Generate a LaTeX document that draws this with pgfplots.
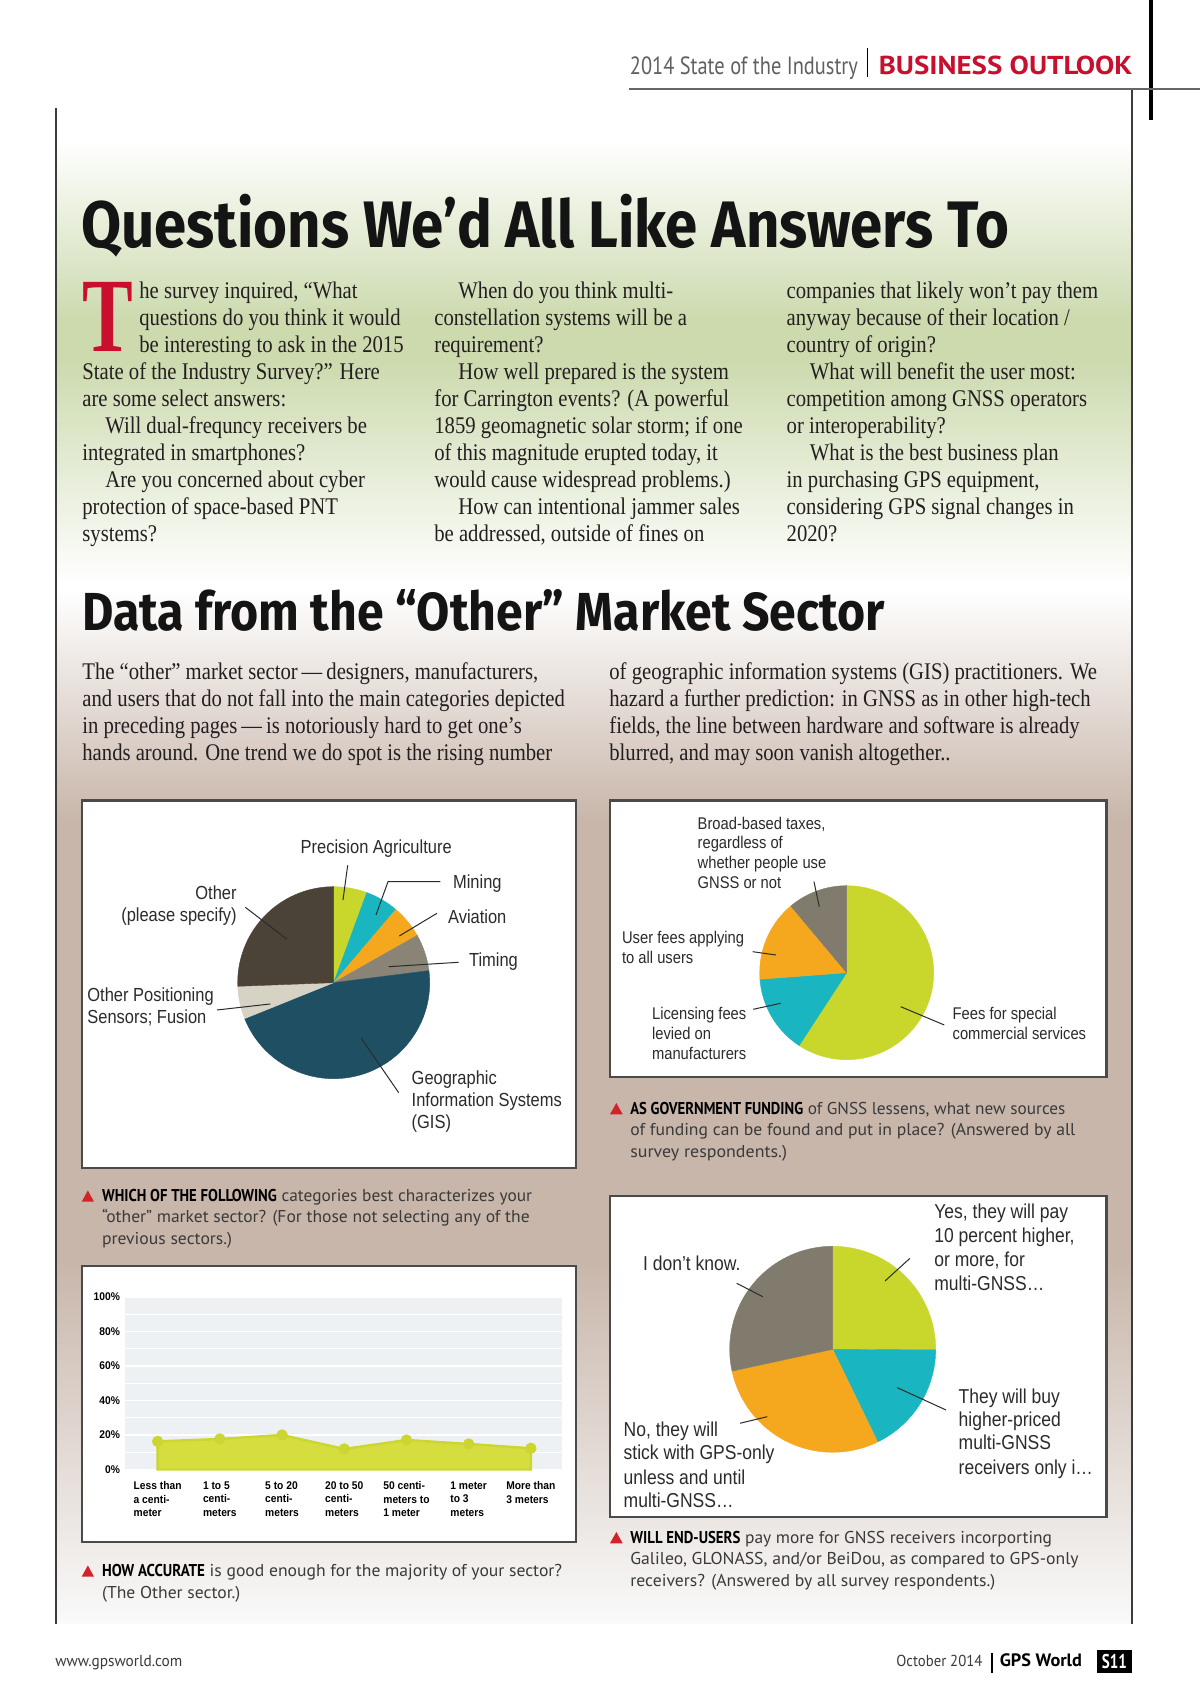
\documentclass[border=0pt]{standalone}
\usepackage{fontspec}
\usepackage{graphicx}
\usepackage{pgfplots}
\usepackage{pgfplotstable}
\pgfplotsset{compat=1.18}

\newfontfamily\bodyfamily[FakeStretch=0.865]{Liberation Serif}
\newfontfamily\capfamily{PT Sans}
\newfontfamily\capboldfamily[FakeStretch=0.85]{PT Sans}
\newfontfamily\headfamily{Fira Sans}
\newfontfamily\labfamily[FakeStretch=0.87]{Liberation Sans}
\newfontfamily\tickfamily[FakeStretch=0.92]{Liberation Sans}
\newfontfamily\dropfamily[FakeStretch=0.72]{Liberation Serif}

\newcommand\bodytext{\bodyfamily\fontsize{12}{13.5}\selectfont}
\newcommand\captext{\capfamily\fontsize{8.6}{10.5}\selectfont}
\newcommand\capbf{\capboldfamily\bfseries\color{black}}
\newcommand\labA{\labfamily\fontsize{9.5}{11}\selectfont}
\newcommand\labB{\labfamily\fontsize{8.5}{10}\selectfont}
\newcommand\labC{\labfamily\fontsize{10.1}{12}\selectfont}
\newcommand\tickfont{\tickfamily\bfseries\fontsize{5.6}{6.65}\selectfont}

\definecolor{bodyc}{HTML}{231F20}
\definecolor{capc}{HTML}{3A3A3A}
\definecolor{labc}{HTML}{2B2B2B}
\definecolor{redc}{HTML}{C8102E}
\definecolor{trired}{HTML}{D2232A}
\definecolor{grayhead}{HTML}{5F6063}
\definecolor{framec}{HTML}{3C3C3C}
\definecolor{boxc}{HTML}{4A4A4A}
\definecolor{bgGreen}{HTML}{CCDAAE}
\definecolor{bgTaupe}{HTML}{C8B6AA}
\definecolor{pYG}{HTML}{C9D72C}
\definecolor{pCyan}{HTML}{19B6C1}
\definecolor{pOrange}{HTML}{F5A81E}
\definecolor{pGray}{HTML}{898476}
\definecolor{pGray2}{HTML}{807B6C}
\definecolor{pTeal}{HTML}{1F4F63}
\definecolor{pBeige}{HTML}{D6D2C4}
\definecolor{pBrown}{HTML}{4B4338}
\definecolor{areaYG}{HTML}{D5DE3E}
\definecolor{areaLine}{HTML}{CBD630}
\definecolor{plotbg}{HTML}{EEF1F4}

\newsavebox\fitbox
\newcommand\fitw[2]{\sbox\fitbox{#2}\pgfmathsetmacro\fitsx{#1*0.501875/\the\wd\fitbox}\scalebox{\fitsx}[1]{\usebox\fitbox}}

\newcommand\drawpie[2]{%
  \pgfplotstablegetrowsof{#1}%
  \pgfmathtruncatemacro\pielast{\pgfplotsretval-1}%
  \def\piecum{0}%
  \pgfplotsforeachungrouped \pieidx in {0,...,\pielast}{%
    \pgfplotstablegetelem{\pieidx}{value}\of{#1}\let\pieval\pgfplotsretval
    \pgfplotstablegetelem{\pieidx}{color}\of{#1}\let\piecol\pgfplotsretval
    \pgfmathsetmacro\piesa{90-3.6*\piecum}%
    \pgfmathsetmacro\piecum{\piecum+\pieval}%
    \pgfmathsetmacro\pieea{90-3.6*\piecum}%
    \edef\pietmp{\noexpand\addplot[fill=\piecol, draw=\piecol, line width=0.2bp] coordinates {(0,0)} -- ++(\piesa:#2) arc[start angle=\piesa, end angle=\pieea, radius=#2] -- cycle;}%
    \pietmp
  }%
}

\pgfplotstableread{
slice value color
PrecisionAgriculture 5.6 pYG
Mining 5.6 pCyan
Aviation 5.6 pOrange
Timing 6.2 pGray
GIS 45.9 pTeal
OtherPositioningSensors 5.5 pBeige
OtherPleaseSpecify 25.6 pBrown
}\pieAdata

\pgfplotstableread{
slice value color
FeesSpecialCommercial 59.2 pYG
LicensingFees 14.6 pCyan
UserFees 15.1 pOrange
BroadBasedTaxes 11.1 pGray2
}\pieBdata

\pgfplotstableread{
slice value color
YesPayMore 25.1 pYG
BuyHigherPriced 17.7 pCyan
NoGPSOnly 28.8 pOrange
DontKnow 28.4 pGray2
}\pieCdata

\begin{document}
\begin{tikzpicture}
\path[use as bounding box] (0,0) rectangle (600bp,-854bp);
\begin{scope}[x=0.5bp,y=-0.5bp]
  % backgrounds
  \fill[white] (0,0) rectangle (1200,1708);
  \shade[top color=white, bottom color=bgGreen] (56,140) rectangle (1132,320);
  \fill[bgGreen] (56,319.5) rectangle (1132,360.5);
  \shade[top color=bgGreen, bottom color=white] (56,360) rectangle (1132,585);
  \shade[top color=white, bottom color=bgTaupe] (56,590) rectangle (1132,820);
  \fill[bgTaupe] (56,819.5) rectangle (1132,1260.5);
  \shade[top color=bgTaupe, bottom color=white!96!gray] (56,1260) rectangle (1132,1624);
  % frame lines
  \draw[framec, line width=0.75bp] (56,108) -- (56,1624);
  \draw[framec, line width=0.75bp] (1132,89) -- (1132,1624);
  \draw[black, line width=2.2bp] (1151,0) -- (1151,120);
  \draw[gray!80!black, line width=1.1bp] (629.5,89.3) -- (1200,89.3);
  \draw[black, line width=0.6bp] (867.7,48) -- (867.7,77);
  % header
  \node[anchor=base west, inner sep=0, text=grayhead, font=\capfamily\fontsize{12.5}{14}\selectfont] at (629.5,75) {\fitw{228}{2014 State of the Industry}};
  \node[anchor=base west, inner sep=0, text=redc, font=\capfamily\bfseries\fontsize{13}{15}\selectfont] at (878.5,75) {\fitw{253.5}{BUSINESS OUTLOOK}};
  % headline 1
  \node[anchor=base west, inner sep=0, text=black!92] at (81,248) {\resizebox{464bp}{26.65bp}{\headfamily\bfseries Questions We’d All Like Answers To}};
  % drop cap
  \node[anchor=base west, inner sep=0, text=redc, font=\dropfamily\bfseries\fontsize{53}{53}\selectfont] at (82,352) {T};
  % body text
  \begin{scope}[every node/.style={anchor=base west, inner sep=0, text=bodyc, font=\bodytext}]
    \node at (139,299) {he survey inquired, “What};
    \node at (139,326) {questions do you think it would};
    \node at (139,352.9) {be interesting to ask in the 2015};
    \node at (82,379.9) {State of the Industry Survey?” Here};
    \node at (82,406.8) {are some select answers:};
    \node at (105,433.8) {Will dual-frequncy receivers be};
    \node at (82,460.7) {integrated in smartphones?};
    \node at (105,487.7) {Are you concerned about cyber};
    \node at (82,514.6) {protection of space-based PNT};
    \node at (82,541.6) {systems?};
    \node at (458,299) {When do you think multi-};
    \node at (434,326) {constellation systems will be a};
    \node at (434,352.9) {requirement?};
    \node at (458,379.9) {How well prepared is the system};
    \node at (434,406.8) {for Carrington events? (A powerful};
    \node at (434,433.8) {1859 geomagnetic solar storm; if one};
    \node at (434,460.7) {of this magnitude erupted today, it};
    \node at (434,487.7) {would cause widespread problems.)};
    \node at (458,514.6) {How can intentional jammer sales};
    \node at (434,541.6) {be addressed, outside of fines on};
    \node at (786.3,299) {companies that likely won’t pay them};
    \node at (786.3,326) {anyway because of their location /};
    \node at (786.3,352.9) {country of origin?};
    \node at (809.5,379.9) {What will benefit the user most:};
    \node at (786.3,406.8) {competition among GNSS operators};
    \node at (786.3,433.8) {or interoperability?};
    \node at (809.5,460.7) {What is the best business plan};
    \node at (786.3,487.7) {in purchasing GPS equipment,};
    \node at (786.3,514.6) {considering GPS signal changes in};
    \node at (786.3,541.6) {2020?};
    \node at (82,680) {The “other” market sector\,—\,designers, manufacturers,};
    \node at (82,707) {and users that do not fall into the main categories depicted};
    \node at (82,734) {in preceding pages\,—\,is notoriously hard to get one’s};
    \node at (82,761) {hands around. One trend we do spot is the rising number};
    \node at (609,680) {of geographic information systems (GIS) practitioners. We};
    \node at (609,707) {hazard a further prediction: in GNSS as in other high-tech};
    \node at (609,734) {fields, the line between hardware and software is already};
    \node at (609,761) {blurred, and may soon vanish altogether..};
  \end{scope}
  % headline 2
  \node[anchor=base west, inner sep=0, text=black!92] at (82,631) {\resizebox{401bp}{20.5bp}{\headfamily\bfseries Data from the “Other” Market Sector}};
  % chart boxes
  \filldraw[fill=white, draw=boxc, line width=1.1bp] (82,800.5) rectangle (576,1168);
  \filldraw[fill=white, draw=boxc, line width=1.1bp] (610,800.5) rectangle (1106.5,1077);
  \filldraw[fill=white, draw=boxc, line width=1.1bp] (82,1266) rectangle (576,1542);
  \filldraw[fill=white, draw=boxc, line width=1.1bp] (610,1196) rectangle (1106.5,1517);
  % anchor coordinates for axes
  \coordinate (pieAc) at (333.7,982.7);
  \coordinate (pieBc) at (846.7,972.7);
  \coordinate (pieCc) at (832.7,1349.3);
  \coordinate (areaSW) at (125.3,1469.5);
  % captions
  \begin{scope}[every node/.style={anchor=base west, inner sep=0, text=capc, font=\captext}]
    \fill[trired] (81.7,1201.7) -- (94,1201.7) -- (87.85,1190.5) -- cycle;
    \node at (101.7,1201.7) {\fitw{430}{{\capbf WHICH OF THE FOLLOWING} categories best characterizes your}};
    \node at (101.7,1222.7) {\fitw{427.6}{“other” market sector? (For those not selecting any of the}};
    \node at (101.7,1244.3) {\fitw{130}{previous sectors.)}};
    \fill[trired] (610,1114.3) -- (622.7,1114.3) -- (616.35,1103) -- cycle;
    \node at (630,1114.3) {\fitw{435}{{\capbf AS GOVERNMENT FUNDING} of GNSS lessens, what new sources}};
    \node at (630,1135.7) {\fitw{445}{of funding can be found and put in place? (Answered by all}};
    \node at (630,1157.3) {\fitw{156.7}{survey respondents.)}};
    \fill[trired] (610,1543.3) -- (622.7,1543.3) -- (616.35,1532) -- cycle;
    \node at (630,1543.3) {\fitw{421.7}{{\capbf WILL END-USERS} pay more for GNSS receivers incorporting}};
    \node at (630,1565) {\fitw{448.3}{Galileo, GLONASS, and/or BeiDou, as compared to GPS-only}};
    \node at (630,1586.7) {\fitw{365}{receivers? (Answered by all survey respondents.)}};
    \fill[trired] (81.7,1576.7) -- (94,1576.7) -- (87.85,1565.5) -- cycle;
    \node at (101.7,1576.7) {\fitw{460}{{\capbf HOW ACCURATE} is good enough for the majority of your sector?}};
    \node at (101.7,1598.3) {\fitw{138.3}{(The Other sector.)}};
  \end{scope}
  % footer
  \node[anchor=base west, inner sep=0, text=capc, font=\capfamily\fontsize{8}{9}\selectfont] at (55,1666.7) {\fitw{127}{www.gpsworld.com}};
  \node[anchor=base west, inner sep=0, text=capc, font=\capfamily\fontsize{8}{9}\selectfont] at (896,1666.7) {\fitw{86}{October 2014}};
  \draw[black, line width=0.8bp] (992,1653) -- (992,1673);
  \node[anchor=base west, inner sep=0, text=black, font=\capfamily\bfseries\fontsize{9}{10}\selectfont] at (999.5,1666.7) {\fitw{82}{GPS World}};
  \fill[black] (1097,1650) rectangle (1132,1673);
  \node[anchor=base, inner sep=0, text=white, font=\capfamily\bfseries\fontsize{10}{11}\selectfont] at (1114.5,1668.5) {\fitw{25}{S11}};
\end{scope}

% ---- pie A
\begin{axis}[at={(pieAc)}, anchor=center, x=48bp, y=48bp, xmin=-1, xmax=1, ymin=-1, ymax=1, hide axis, clip=false]
  \drawpie{\pieAdata}{48bp}
\end{axis}
% ---- pie B
\begin{axis}[at={(pieBc)}, anchor=center, x=43.5bp, y=43.5bp, xmin=-1, xmax=1, ymin=-1, ymax=1, hide axis, clip=false]
  \drawpie{\pieBdata}{43.5bp}
\end{axis}
% ---- pie C
\begin{axis}[at={(pieCc)}, anchor=center, x=51.5bp, y=51.5bp, xmin=-1, xmax=1, ymin=-1, ymax=1, hide axis, clip=false]
  \drawpie{\pieCdata}{51.5bp}
\end{axis}
% ---- area chart
\begin{axis}[at={(areaSW)}, anchor=south west, scale only axis, width=218.35bp, height=86.25bp,
  xmin=-0.52, xmax=6.5, ymin=0, ymax=100,
  axis background/.style={fill=plotbg},
  axis line style={draw=none}, tick style={draw=none},
  ytick={0,20,40,60,80,100}, yticklabels={0\%,20\%,40\%,60\%,80\%,100\%},
  minor ytick={10,30,50,70,90},
  ymajorgrids, yminorgrids,
  major grid style={white, line width=0.6bp},
  minor grid style={white, line width=0.6bp},
  xtick={0,1,2,3,4,5,6},
  xticklabels={{Less than\\a centi-\\meter},{1 to 5\\centi-\\meters},{5 to 20\\centi-\\meters},{20 to 50\\centi-\\meters},{50 centi-\\meters to\\1 meter},{1 meter\\to 3\\meters},{More than\\3 meters}},
  xticklabel style={font=\tickfont, align=left, anchor=north, inner sep=0pt, yshift=-6bp, text=black},
  yticklabel style={font=\tickfont, anchor=east, inner sep=0pt, xshift=-2.5bp, text=black},
  clip=false]
  \addplot[fill=areaYG, draw=areaLine, line width=1.2bp, mark=*, mark size=2.2bp, mark options={fill=areaLine, draw=areaLine}]
    coordinates {(0,16.3) (1,17.7) (2,20.0) (3,11.9) (4,17.1) (5,14.8) (6,12.3)} \closedcycle;
\end{axis}

\begin{scope}[x=0.5bp,y=-0.5bp]
  % pie A labels
  \begin{scope}[every node/.style={anchor=base west, inner sep=0, text=labc, font=\labA}]
    \node at (300.3,854) {Precision Agriculture};
    \node at (452.7,888.3) {Mining};
    \node at (447.7,923.3) {Aviation};
    \node at (468.7,966.7) {Timing};
    \node at (411.3,1085) {Geographic};
    \node at (411.3,1106.7) {Information Systems};
    \node at (411.3,1128.3) {(GIS)};
    \node at (87,1001.7) {Other Positioning};
    \node at (87,1023.3) {Sensors; Fusion};
    \node[anchor=base east] at (237,899.3) {Other};
    \node[anchor=base east] at (237,921.7) {(please specify)};
  \end{scope}
  \begin{scope}[draw=labc, line width=0.5bp]
    \draw (347.7,865.3) -- (343,900);
    \draw (440.3,881.7) -- (388,881.7) -- (376,915);
    \draw (437,913.3) -- (399.3,936);
    \draw (458.7,962.3) -- (388.7,966.7);
    \draw (398.7,1092.7) -- (361.3,1038.3);
    \draw (217,1010) -- (270.3,1004);
    \draw (245.3,907.3) -- (287,939.3);
  \end{scope}
  % pie B labels
  \begin{scope}[every node/.style={anchor=base west, inner sep=0, text=labc, font=\labB}]
    \node at (697.3,829.3) {Broad-based taxes,};
    \node at (697.3,849) {regardless of};
    \node at (697.3,868.3) {whether people use};
    \node at (697.3,888.3) {GNSS or not};
    \node at (621.7,944) {User fees applying};
    \node at (621.7,964) {to all users};
    \node at (651.7,1019.3) {Licensing fees};
    \node at (651.7,1039.3) {levied on};
    \node at (651.7,1059.3) {manufacturers};
    \node at (952.3,1019.3) {Fees for special};
    \node at (952.3,1039.3) {commercial services};
  \end{scope}
  \begin{scope}[draw=labc, line width=0.5bp]
    \draw (814,881.7) -- (819.3,906.7);
    \draw (752.7,951.7) -- (776,955);
    \draw (753.3,1009.3) -- (780.7,1003.3);
    \draw (944.3,1025) -- (900.7,1006.7);
  \end{scope}
  % pie C labels
  \begin{scope}[every node/.style={anchor=base west, inner sep=0, text=labc, font=\labC}]
    \node at (934,1218.3) {Yes, they will pay};
    \node at (934,1242.3) {10 percent higher,};
    \node at (934,1266.7) {or more, for};
    \node at (934,1290.7) {multi-GNSS…};
    \node at (642.7,1270.3) {I don’t know.};
    \node at (958.3,1403.3) {They will buy};
    \node at (958.3,1426.7) {higher-priced};
    \node at (958.3,1450) {multi-GNSS};
    \node at (958.3,1474.3) {receivers only i…};
    \node at (623.3,1436.7) {No, they will};
    \node at (623.3,1460) {stick with GPS-only};
    \node at (623.3,1484.3) {unless and until};
    \node at (623.3,1507.7) {multi-GNSS…};
  \end{scope}
  \begin{scope}[draw=labc, line width=0.5bp]
    \draw (910,1258.3) -- (885,1281);
    \draw (946,1410) -- (897.3,1387.7);
    \draw (740,1423.3) -- (767.3,1416.7);
    \draw (736.7,1283.3) -- (762.7,1296.7);
  \end{scope}
\end{scope}
\end{tikzpicture}
\end{document}
